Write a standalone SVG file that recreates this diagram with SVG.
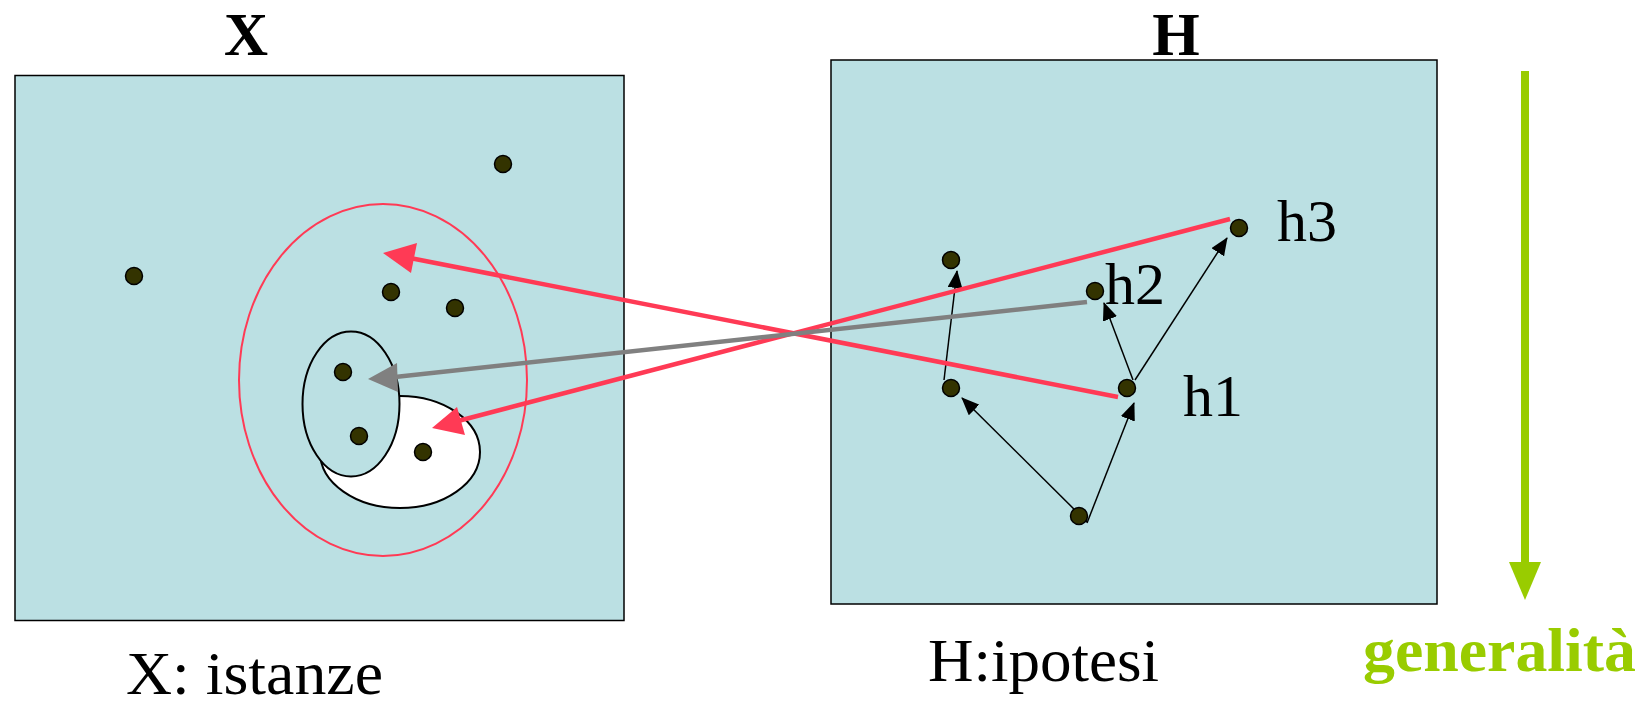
<svg xmlns="http://www.w3.org/2000/svg" width="1644" height="705" viewBox="0 0 1644 705">
<style>
.box{fill:#bbe0e3;stroke:#000;stroke-width:1.5}
.dot{fill:#333300;stroke:#000;stroke-width:1.5}
.t{font-family:"Liberation Serif",serif;fill:#000}
.b{font-weight:bold}
.thin{stroke:#000;stroke-width:1.5;fill:none}
.red{stroke:#ff3a55;stroke-width:4.5;fill:none}
</style>
<defs>
<marker id="ab" markerWidth="18" markerHeight="15" refX="17" refY="7.5" orient="auto" markerUnits="userSpaceOnUse" viewBox="0 0 18 15">
<path d="M0,0 L18,7.5 L0,15 Z" fill="#000"/>
</marker>
</defs>
<rect width="1644" height="705" fill="#fff"/>
<g id="title-x"><text class="t b" x="246" y="55" font-size="61" text-anchor="middle">X</text></g>
<g id="title-h"><text class="t b" x="1176" y="55" font-size="61" text-anchor="middle">H</text></g>
<g id="box-x">
<rect class="box" x="15" y="75.5" width="609" height="545"/>
<ellipse cx="383" cy="380" rx="144" ry="176" fill="none" stroke="#ff3a55" stroke-width="2"/>
<ellipse cx="400" cy="452" rx="80" ry="56" fill="#fff" stroke="#000" stroke-width="2"/>
<ellipse cx="351" cy="404" rx="48.5" ry="72.5" fill="#bbe0e3" stroke="#000" stroke-width="2"/>
<circle class="dot" cx="503" cy="164" r="8.5"/>
<circle class="dot" cx="134" cy="276" r="8.5"/>
<circle class="dot" cx="391" cy="292" r="8.5"/>
<circle class="dot" cx="455" cy="308" r="8.5"/>
<circle class="dot" cx="343" cy="372" r="8.5"/>
<circle class="dot" cx="359" cy="436" r="8.5"/>
<circle class="dot" cx="423" cy="452" r="8.5"/>
</g>
<g id="box-h">
<rect class="box" x="831" y="60" width="606" height="544"/>
</g>
<g id="connectors-h">
<line class="thin" x1="1087" y1="522" x2="962" y2="398" marker-end="url(#ab)"/>
<line class="thin" x1="1087" y1="523" x2="1134" y2="403" marker-end="url(#ab)"/>
<line class="thin" x1="944" y1="380" x2="957" y2="271" marker-end="url(#ab)"/>
<line class="thin" x1="1133" y1="380" x2="1104" y2="303" marker-end="url(#ab)"/>
<line class="thin" x1="1135" y1="380" x2="1227" y2="238" marker-end="url(#ab)"/>
</g>
<g id="nodes-h">
<circle class="dot" cx="951" cy="260" r="8.5"/>
<circle class="dot" cx="1095" cy="291" r="8.5"/>
<circle class="dot" cx="1239" cy="228" r="8.5"/>
<circle class="dot" cx="951" cy="388" r="8.5"/>
<circle class="dot" cx="1127" cy="388" r="8.5"/>
<circle class="dot" cx="1079" cy="516" r="8.5"/>
<text class="t" x="1277" y="241" font-size="60">h3</text>
<text class="t" x="1105" y="304" font-size="60">h2</text>
<text class="t" x="1183" y="416" font-size="60">h1</text>
</g>
<g id="connectors">
<line class="red" x1="1118" y1="397" x2="410" y2="258"/>
<path d="M383,253 L417,243 L411,273 Z" fill="#ff3a55"/>
<line class="red" x1="1230" y1="219" x2="458" y2="421"/>
<path d="M432,428 L457,407 L465,435 Z" fill="#ff3a55"/>
<line x1="1087" y1="302" x2="395" y2="377" stroke="#808080" stroke-width="4.5"/>
<path d="M368,379 L397,363 L398,392 Z" fill="#808080"/>
</g>
<g id="generalita">
<line x1="1525" y1="71" x2="1525" y2="565" stroke="#99cc00" stroke-width="8"/>
<path d="M1509,562 L1541,562 L1525,600 Z" fill="#99cc00"/>
<text class="t b" x="1363" y="671" font-size="62" style="fill:#99cc00" textLength="273" lengthAdjust="spacingAndGlyphs">generalità</text>
</g>
<g id="labels">
<text class="t" x="126" y="694" font-size="62" textLength="257" lengthAdjust="spacingAndGlyphs">X: istanze</text>
<text class="t" x="928" y="681" font-size="62" textLength="231" lengthAdjust="spacingAndGlyphs">H:ipotesi</text>
</g>
</svg>
